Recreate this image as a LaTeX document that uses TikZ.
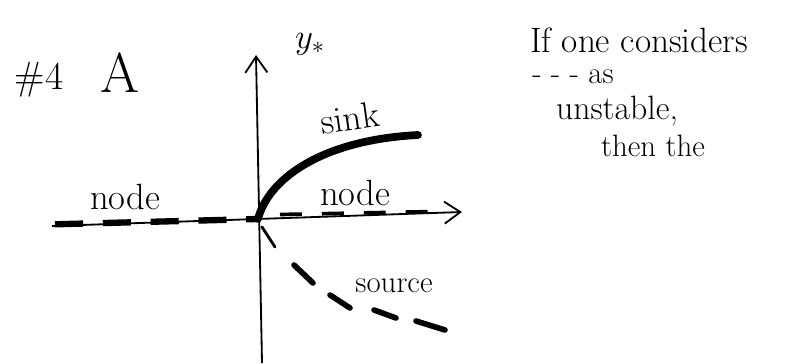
\documentclass[tikz,border=0pt]{standalone}
\usepackage{fontspec}
\usepackage{tikz}
\usetikzlibrary{arrows.meta}

\begin{document}
\begin{tikzpicture}[
  x=0.025cm, y=-0.025cm,
  axis/.style = {line width=1.3pt, -{Straight Barb[length=4mm,width=5.5mm]}},
  hand/.style = {inner sep=0pt, font=\fontsize{26}{30}\selectfont},
  small/.style = {font=\fontsize{22}{26}\selectfont},
  stable/.style = {line width=5.5pt, line cap=round},
  leftdash/.style = {line width=4.5pt, dash pattern=on 20pt off 14pt},
  rightdash/.style = {line width=2.6pt, dash pattern=on 15.6pt off 14.2pt},
  srcdash/.style = {line width=4pt, line cap=round}
]
\useasboundingbox (0,0) rectangle (791,363);

% axes
\coordinate (O) at (258,219);
\coordinate (xl) at (52,226);
\coordinate (xr) at (462,212);
\coordinate (yb) at (262,363);
\coordinate (yt) at (256,55);
\draw[axis] (xl) -- (xr);
\draw[axis] (yb) -- (yt);

% equilibria on the axis
\draw[leftdash] (55,224.3) -- (O);
\draw[rightdash] (280,214.5) -- (436,211.5);

% sink branch
\draw[stable] (O) .. controls (268,180) and (320,140) .. (418,135);

% source branch
\draw[line width=2pt, line cap=round] (262,227) -- (275,247);
\draw[srcdash] (294,265) -- (313,283) (330,295) -- (350,308)
  (374,310) -- (396,318) (416,321) -- (445,330);

% labels
\node[hand, font=\fontsize{28}{32}\selectfont] (num) at (39,80) {\#4};
\node[hand, font=\fontsize{40}{44}\selectfont] (part) at (120,73) {A};
\node[hand] (ystar) at (310,44) {$y_*$};
\node[hand, rotate=8] (sink) at (350,118) {sink};
\node[hand] (nodeL) at (125,197) {node};
\node[hand] (nodeR) at (355,193) {node};
\node[hand, small] (src) at (394,286) {source};

% side note
\node[hand, font=\fontsize{25}{30}\selectfont] (note1) at (639,40) {If one considers};
\node[hand, small] (note2) at (573,77) {- - - as};
\node[hand, font=\fontsize{24}{28}\selectfont] (note3) at (617,111) {unstable,};
\node[hand, small] (note4) at (653,146) {then the};
\end{tikzpicture}
\end{document}
